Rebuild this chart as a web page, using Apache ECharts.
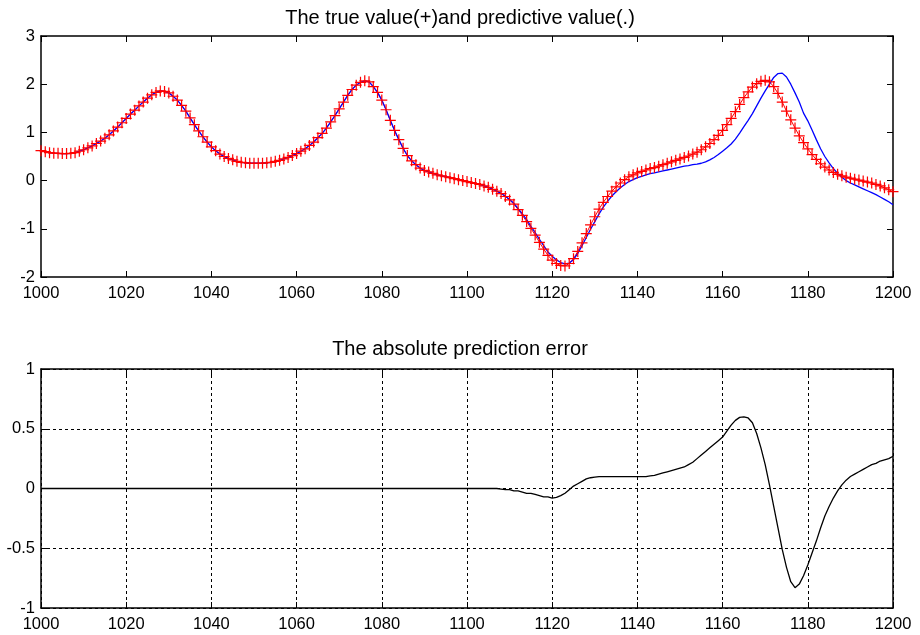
<!DOCTYPE html>
<html>
<head>
<meta charset="utf-8">
<script src="https://cdn.jsdelivr.net/npm/echarts@6/dist/echarts.min.js"></script>
<style>
  html, body { margin: 0; padding: 0; background: #fff; }
  #chart { width: 920px; height: 635px; }
</style>
</head>
<body>
<div id="chart"></div>
<script>
// x runs 1000..1200, one sample per step
const xStart = 1000;

// true value (red +)
const trueValue = [
  0.62, 0.60, 0.58, 0.57, 0.565, 0.56, 0.56, 0.565, 0.58, 0.61,
  0.64, 0.68, 0.72, 0.77, 0.82, 0.88, 0.95, 1.03, 1.11, 1.20,
  1.29, 1.38, 1.46, 1.55, 1.63, 1.71, 1.78, 1.83, 1.86, 1.85,
  1.82, 1.75, 1.67, 1.56, 1.44, 1.30, 1.16, 1.03, 0.91, 0.80,
  0.70, 0.62, 0.55, 0.50, 0.46, 0.43, 0.40, 0.38, 0.37, 0.36,
  0.36, 0.36, 0.36, 0.37, 0.38, 0.40, 0.42, 0.45, 0.48, 0.52,
  0.56, 0.61, 0.66, 0.73, 0.80, 0.89, 0.98, 1.09, 1.22, 1.35,
  1.49, 1.63, 1.77, 1.89, 1.98, 2.04, 2.07, 2.05, 1.95, 1.83,
  1.67, 1.47, 1.25, 1.04, 0.85, 0.67, 0.52, 0.41, 0.33, 0.26,
  0.21, 0.18, 0.15, 0.12, 0.10, 0.08, 0.06, 0.04, 0.02, 0.00,
  -0.02, -0.04, -0.06, -0.08, -0.11, -0.14, -0.18, -0.22, -0.27, -0.33,
  -0.40, -0.49, -0.60, -0.72, -0.85, -0.99, -1.13, -1.28, -1.42, -1.55,
  -1.65, -1.72, -1.76, -1.77, -1.72, -1.62, -1.47, -1.29, -1.10, -0.92,
  -0.75, -0.59, -0.45, -0.33, -0.22, -0.13, -0.05, 0.02, 0.08, 0.12,
  0.16, 0.19, 0.22, 0.25, 0.27, 0.30, 0.33, 0.36, 0.39, 0.42,
  0.45, 0.48, 0.51, 0.55, 0.59, 0.64, 0.70, 0.77, 0.85, 0.94,
  1.04, 1.16, 1.29, 1.43, 1.58, 1.72, 1.84, 1.94, 2.01, 2.06,
  2.08, 2.05, 1.95, 1.81, 1.63, 1.44, 1.26, 1.09, 0.93, 0.79,
  0.66, 0.54, 0.44, 0.35, 0.28, 0.22, 0.17, 0.13, 0.10, 0.07,
  0.05, 0.03, 0.01, -0.01, -0.03, -0.05, -0.08, -0.11, -0.15, -0.19,
  -0.23
];

// predictive value (blue line)
const predictValue = [
  0.62, 0.60, 0.58, 0.57, 0.565, 0.56, 0.56, 0.565, 0.58, 0.61,
  0.64, 0.68, 0.72, 0.77, 0.82, 0.88, 0.95, 1.03, 1.11, 1.20,
  1.29, 1.38, 1.46, 1.55, 1.63, 1.71, 1.78, 1.83, 1.86, 1.85,
  1.82, 1.75, 1.67, 1.56, 1.44, 1.30, 1.16, 1.03, 0.91, 0.80,
  0.70, 0.62, 0.55, 0.50, 0.46, 0.43, 0.40, 0.38, 0.37, 0.36,
  0.36, 0.36, 0.36, 0.37, 0.38, 0.40, 0.42, 0.45, 0.48, 0.52,
  0.56, 0.61, 0.66, 0.73, 0.80, 0.89, 0.98, 1.09, 1.22, 1.35,
  1.49, 1.63, 1.77, 1.89, 1.98, 2.04, 2.07, 2.05, 1.95, 1.83,
  1.67, 1.47, 1.25, 1.04, 0.85, 0.67, 0.52, 0.41, 0.33, 0.26,
  0.21, 0.18, 0.15, 0.12, 0.10, 0.08, 0.06, 0.04, 0.02, 0.00,
  -0.02, -0.04, -0.06, -0.08, -0.11, -0.14, -0.18, -0.22, -0.265, -0.32,
  -0.39, -0.47, -0.58, -0.69, -0.81, -0.95, -1.08, -1.22, -1.35, -1.48,
  -1.57, -1.645, -1.70, -1.73, -1.71, -1.64, -1.51, -1.35, -1.18, -1.01,
  -0.85, -0.69, -0.55, -0.43, -0.32, -0.23, -0.15, -0.08, -0.02, 0.02,
  0.06, 0.09, 0.12, 0.145, 0.16, 0.18, 0.20, 0.22, 0.24, 0.26,
  0.28, 0.30, 0.31, 0.33, 0.34, 0.36, 0.39, 0.43, 0.48, 0.54,
  0.61, 0.68, 0.76, 0.86, 0.985, 1.12, 1.25, 1.39, 1.55, 1.71,
  1.86, 2.00, 2.14, 2.22, 2.23, 2.15, 2.00, 1.82, 1.63, 1.40,
  1.24, 1.05, 0.85, 0.66, 0.50, 0.37, 0.25, 0.15, 0.07, 0.00,
  -0.05, -0.09, -0.13, -0.17, -0.21, -0.25, -0.29, -0.34, -0.39, -0.44,
  -0.50
];

// absolute prediction error (black line)
const predictError = [
  0, 0, 0, 0, 0, 0, 0, 0, 0, 0,
  0, 0, 0, 0, 0, 0, 0, 0, 0, 0,
  0, 0, 0, 0, 0, 0, 0, 0, 0, 0,
  0, 0, 0, 0, 0, 0, 0, 0, 0, 0,
  0, 0, 0, 0, 0, 0, 0, 0, 0, 0,
  0, 0, 0, 0, 0, 0, 0, 0, 0, 0,
  0, 0, 0, 0, 0, 0, 0, 0, 0, 0,
  0, 0, 0, 0, 0, 0, 0, 0, 0, 0,
  0, 0, 0, 0, 0, 0, 0, 0, 0, 0,
  0, 0, 0, 0, 0, 0, 0, 0, 0, 0,
  0, 0, 0, 0, 0, 0, 0, 0, -0.005, -0.01,
  -0.01, -0.02, -0.02, -0.03, -0.04, -0.04, -0.05, -0.06, -0.07, -0.07,
  -0.08, -0.075, -0.06, -0.04, -0.01, 0.02, 0.04, 0.06, 0.08, 0.09,
  0.095, 0.10, 0.10, 0.10, 0.10, 0.10, 0.10, 0.10, 0.10, 0.10,
  0.10, 0.10, 0.10, 0.105, 0.11, 0.12, 0.13, 0.14, 0.15, 0.16,
  0.17, 0.18, 0.20, 0.22, 0.25, 0.28, 0.31, 0.34, 0.37, 0.40,
  0.43, 0.48, 0.53, 0.57, 0.595, 0.60, 0.59, 0.55, 0.46, 0.34,
  0.20, 0.03, -0.15, -0.33, -0.51, -0.66, -0.78, -0.83, -0.80, -0.73,
  -0.64, -0.54, -0.44, -0.33, -0.23, -0.15, -0.08, -0.02, 0.03, 0.07,
  0.10, 0.12, 0.14, 0.16, 0.18, 0.20, 0.21, 0.23, 0.24, 0.25,
  0.27
];

const toPairs = arr => arr.map((v, i) => [xStart + i, v]);

const font = 'Liberation Sans, Arial, sans-serif';
const plusSymbol = 'path://M0,4.45h10v1.1h-10zM4.45,0h1.1v10h-1.1z';

// axis helpers: main axes carry labels, mirrored ones only line + ticks
function xAx(grid, pos, labels, dashed) {
  return {
    type: 'value', gridIndex: grid, position: pos,
    min: 1000, max: 1200, interval: 20,
    axisLine: { show: true, onZero: false, lineStyle: { color: '#000', width: 1.5 } },
    axisTick: { show: true, inside: true, length: 6, lineStyle: { color: '#000' } },
    axisLabel: {
      show: labels, color: '#000', fontSize: 16.5, fontFamily: font, margin: 8,
      formatter: v => String(v)
    },
    splitLine: { show: dashed, lineStyle: { color: '#000', type: [3, 3], width: 1 } }
  };
}
function yAx(grid, pos, labels, min, max, step, dashed) {
  return {
    type: 'value', gridIndex: grid, position: pos,
    min: min, max: max, interval: step,
    axisLine: { show: true, onZero: false, lineStyle: { color: '#000', width: 1.5 } },
    axisTick: { show: true, inside: true, length: 6, lineStyle: { color: '#000' } },
    axisLabel: {
      show: labels, color: '#000', fontSize: 16.5, fontFamily: font, margin: 6,
      formatter: v => String(v)
    },
    splitLine: { show: dashed, lineStyle: { color: '#000', type: [3, 3], width: 1 } }
  };
}

const chart = echarts.init(document.getElementById('chart'));
chart.setOption({
  animation: false,
  backgroundColor: '#fff',
  title: [
    {
      text: 'The true value(+)and predictive value(.)',
      left: 'center', top: 3,
      textStyle: { color: '#000', fontSize: 20, fontWeight: 'normal', fontFamily: font }
    },
    {
      text: 'The absolute prediction error',
      left: 'center', top: 334,
      textStyle: { color: '#000', fontSize: 20, fontWeight: 'normal', fontFamily: font }
    }
  ],
  grid: [
    { left: 41, right: 27, top: 36, height: 241, outerBoundsMode: 'none' },
    { left: 41, right: 27, top: 369, height: 239, outerBoundsMode: 'none' }
  ],
  xAxis: [
    xAx(0, 'bottom', true, false),
    xAx(0, 'top', false, false),
    xAx(1, 'bottom', true, true),
    xAx(1, 'top', false, false)
  ],
  yAxis: [
    yAx(0, 'left', true, -2, 3, 1, false),
    yAx(0, 'right', false, -2, 3, 1, false),
    yAx(1, 'left', true, -1, 1, 0.5, true),
    yAx(1, 'right', false, -1, 1, 0.5, false)
  ],
  series: [
    {
      name: 'true', type: 'line', xAxisIndex: 0, yAxisIndex: 0,
      data: toPairs(trueValue),
      symbol: plusSymbol, symbolSize: 11, showAllSymbol: true,
      itemStyle: { color: '#ff0000' },
      lineStyle: { color: '#ff0000', width: 1 }
    },
    {
      name: 'predict', type: 'line', xAxisIndex: 0, yAxisIndex: 0,
      data: toPairs(predictValue),
      showSymbol: false,
      lineStyle: { color: '#0000ff', width: 1.3 }
    },
    {
      name: 'error', type: 'line', xAxisIndex: 2, yAxisIndex: 2,
      data: toPairs(predictError),
      showSymbol: false,
      lineStyle: { color: '#000', width: 1.3 }
    }
  ]
});
</script>
</body>
</html>
